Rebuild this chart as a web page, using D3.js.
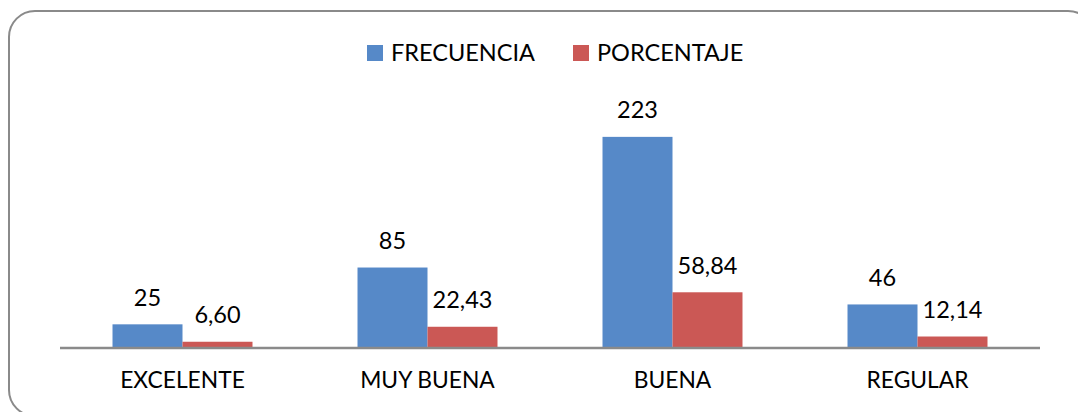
<!DOCTYPE html>
<html><head><meta charset="utf-8">
<script src="https://cdn.jsdelivr.net/npm/d3@7"></script>
<style>body{margin:0;background:#fff;}svg{display:block;}text{font-family:Lato,"Open Sans",sans-serif;fill:#000;}</style>
</head><body>
<svg id="chart" width="1078" height="412"></svg>
<script>
const categories = ["EXCELENTE", "MUY BUENA", "BUENA", "REGULAR"];
const seriesNames = ["FRECUENCIA", "PORCENTAJE"];
const frecuencia = [25, 85, 223, 46];
const porcentaje = [6.60, 22.43, 58.84, 12.14];
const colors = ["#5689C8", "#CB5855"];

const svg = d3.select("#chart");
const fmt = [d => String(d), d => d.toFixed(2).replace(".", ",")];

// frame
svg.append("rect").attr("x", 9).attr("y", 11).attr("width", 1085).attr("height", 405)
  .attr("rx", 26).attr("ry", 26).attr("fill", "#fff").attr("stroke", "#8a8a8a").attr("stroke-width", 2);

const x0 = d3.scaleBand().domain(categories).range([60, 1040]).paddingInner(0.4286).paddingOuter(0.2143);
const x1 = d3.scaleBand().domain(seriesNames).range([0, x0.bandwidth()]);
const y = d3.scaleLinear().domain([0, 250]).range([348, 111.3]);

const data = categories.map((c, i) => ({cat: c, vals: [frecuencia[i], porcentaje[i]]}));
const g = svg.append("g");
const groups = g.selectAll("g.cat").data(data).join("g").attr("transform", d => `translate(${x0(d.cat)},0)`);
groups.selectAll("rect").data(d => d.vals.map((v, j) => ({v, j})))
  .join("rect")
  .attr("x", d => x1(seriesNames[d.j])).attr("width", x1.bandwidth())
  .attr("y", d => y(d.v)).attr("height", d => y(0) - y(d.v))
  .attr("fill", d => colors[d.j]);
groups.selectAll("text.val").data(d => d.vals.map((v, j) => ({v, j})))
  .join("text").attr("class", "val")
  .attr("x", d => x1(seriesNames[d.j]) + x1.bandwidth() / 2)
  .attr("y", d => y(d.v) - 18.5)
  .attr("text-anchor", "middle").attr("font-size", 23.5)
  .text(d => fmt[d.j](d.v));

// axis
const xAxis = d3.axisBottom(x0).tickSize(0).tickPadding(0);
const ax = svg.append("g").attr("transform", "translate(0,348)").call(xAxis);
ax.select(".domain").attr("stroke", "#8a8a8a").attr("stroke-width", 2.5).attr("d", "M60,0H1040");
ax.selectAll(".tick text").attr("font-size", 22.8).attr("dy", "1.76em").attr("font-family", "Lato").attr("fill", "#000");

// legend
const leg = svg.append("g");
const legX = [367, 573];
seriesNames.forEach((s, i) => {
  leg.append("rect").attr("x", legX[i]).attr("y", 45).attr("width", 16).attr("height", 16).attr("fill", colors[i]);
  leg.append("text").attr("x", legX[i] + 24).attr("y", 61).attr("font-size", 23.5).text(s);
});
</script>
</body></html>
